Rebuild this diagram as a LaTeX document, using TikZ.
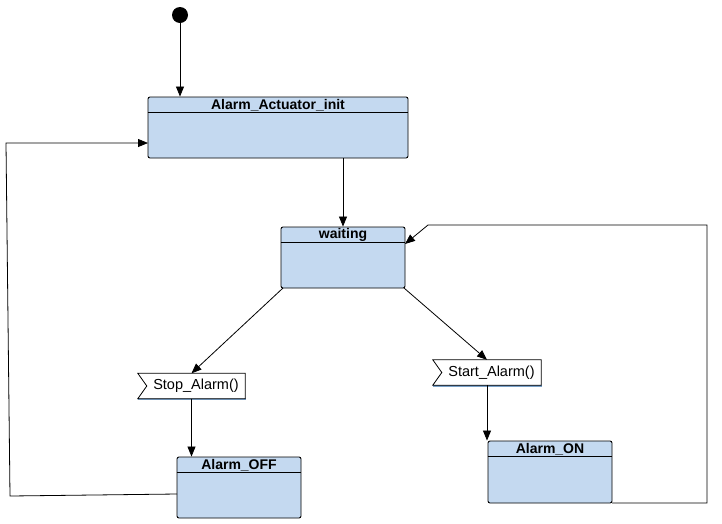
\documentclass[tikz,border=0pt]{standalone}
\usepackage{fontspec}
\setmainfont{Liberation Sans}
\usetikzlibrary{arrows.meta,calc}
\definecolor{stfill}{RGB}{196,217,240}
\definecolor{sigshadow}{RGB}{120,160,200}
\tikzset{
  statebox/.style={draw=black, line width=0.9pt, fill=stfill, rounded corners=2pt, minimum width=#1, inner sep=0pt},
  stitle/.style={font=\bfseries\fontsize{14}{16}\selectfont, inner sep=0pt, anchor=center},
  signode/.style={minimum height=25pt, inner sep=0pt, font=\fontsize{14.5}{16}\selectfont},
  conn/.style={line width=0.8pt, -{Triangle[length=10pt,width=8pt]}},
  plain/.style={line width=0.8pt},
}
\newcommand{\mkstate}[5]{% name, center, width, height, title
  \node[statebox=#3, minimum height=#4] (#1) at #2 {};
  \draw[line width=0.9pt] ($(#1.north west)+(0,16)$) -- ($(#1.north east)+(0,16)$);
  \node[stitle] (#1-t) at ($(#1.north)+(0,8.5)$) {#5};
}
\newcommand{\mksignal}[4]{% name, center, width, text
  \node[signode, minimum width=#3] (#1) at #2 {};
  \draw[sigshadow, line width=1.6pt] ($(#1.south west)+(0.5,0.5)$) -- ($(#1.south east)+(0.5,0.5)$);
  \draw[sigshadow, line width=1.2pt] ($(#1.west)+(9,0.8)$) -- ($(#1.south west)+(0.5,0.5)$);
  \draw[fill=white, line width=0.8pt] (#1.north west) -- (#1.north east) -- (#1.south east) -- (#1.south west) -- ($(#1.west)+(9,0)$) -- cycle;
  \node[signode, anchor=center] (#1-t) at ($(#1.center)+(4.5,0)$) {#4};
}
\begin{document}
\begin{tikzpicture}[x=1pt,y=-1pt]
\useasboundingbox (0,0) rectangle (722,523);
\fill[white] (0,0) rectangle (722,523);

\node[circle, fill=black, minimum size=16pt, inner sep=0pt] (start0) at (180,15) {};

\mkstate{init}{(278,127.5)}{260pt}{61pt}{Alarm\_Actuator\_init}
\mkstate{waiting}{(343,257.5)}{124pt}{61pt}{waiting}
\mkstate{off}{(239,487.5)}{124pt}{61pt}{Alarm\_OFF}
\mkstate{on}{(550,472)}{124pt}{62pt}{Alarm\_ON}

\mksignal{stop}{(191.5,386)}{107pt}{Stop\_Alarm()}
\mksignal{startsig}{(487,372.5)}{108pt}{Start\_Alarm()}

\coordinate (offout) at (177,494);
\coordinate (l1) at (10,496);
\coordinate (l2) at (6,143);
\coordinate (initin) at (148,143);
\coordinate (onout) at (612,503);
\coordinate (r1) at (707,503);
\coordinate (r2) at (707,225);
\coordinate (r3) at (428,225);
\coordinate (waitin) at (405,244);
\coordinate (ws1) at (283,288);
\coordinate (ws2) at (404,288);

\draw[conn] (start0) -- (start0 |- init.north);
\draw[conn] (init.south -| waiting.north) -- (waiting.north);
\draw[conn] (ws1) -- (stop.north);
\draw[conn] (ws2) -- (startsig.north);
\draw[conn] (stop.south) -- (stop.south |- off.north);
\draw[conn] (startsig.south) -- (startsig.south |- on.north);
\draw[conn] (onout) -- (r1) -- (r2) -- (r3) -- (waitin);
\draw[conn] (offout) -- (l1) -- (l2) -- (initin);
\end{tikzpicture}
\end{document}
